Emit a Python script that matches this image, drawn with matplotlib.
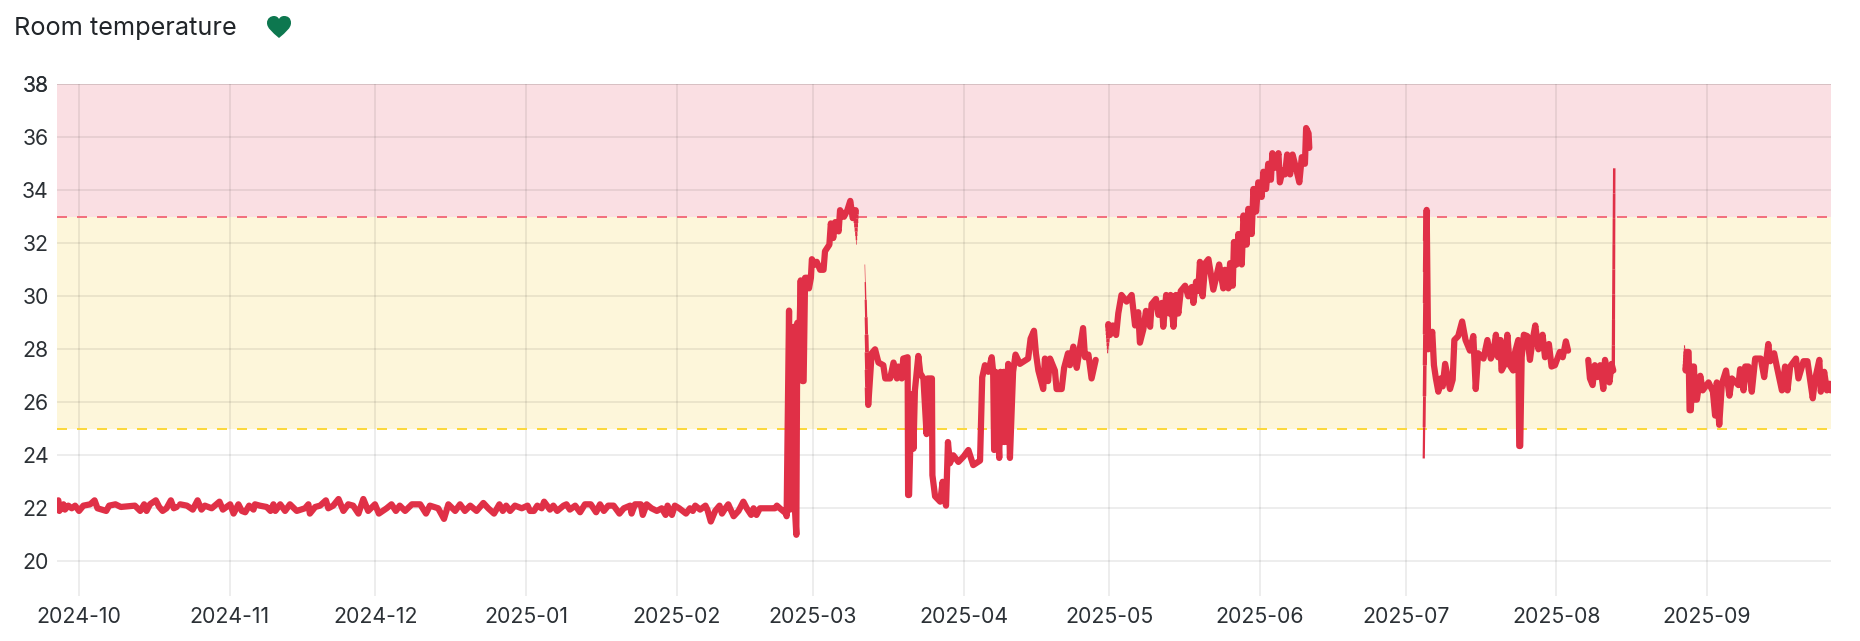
#! /usr/bin/env python3

import matplotlib
matplotlib.use('Agg')
import matplotlib.pyplot as plt
import matplotlib.dates as mdates
from matplotlib.patches import PathPatch
from matplotlib.path import Path
import numpy as np
import pandas as pd

plt.rcParams['font.family'] = ['Inter', 'DejaVu Sans']

# days since 2024-10-01 and room temperature, one pair of lists per unbroken run
days_a = [-4.25, -4.05, -3.2, -2.9, -2.2, -1.5, -0.8, 0, 0.9, 2.3, 3.2, 3.8, 4.7, 5.6, 6.2, 7.5, 8.6, 11.5, 12.6,
          13.4, 13.9, 14.6, 15.8, 16.5, 17.2, 18.0, 18.9, 19.5, 20.1]
temp_a = [22.3, 21.9, 22.15, 21.95, 22.1, 22.0, 22.1, 21.9, 22.1, 22.15, 22.3, 22.0, 21.95, 21.9, 22.1, 22.15, 22.05,
          22.1, 21.9, 22.15, 21.9, 22.15, 22.3, 22.05, 21.9, 22.0, 22.3, 22.0, 22.05]

days_b = [20.8, 22.2, 23.4, 24.4, 25.2, 25.9, 27.3, 28.9, 29.6, 31.1, 31.8, 32.8, 33.5, 34.2, 35.0, 35.9, 36.2, 37.2,
          38.6, 39.4, 40.0, 40.4, 41.4, 42.4, 43.4, 44.8, 46.5, 47.2, 47.5, 48.6, 49.6, 50.8, 51.3, 52.3, 53.4, 54.4,
          55.4, 56.4, 57.5, 58.5, 59.5, 60.9, 61.7, 63.3, 64.3, 65.2, 66.0, 67.1, 68.5, 70.2, 71.4, 72.2, 73.9, 75.1,
          76.0, 77.4, 78.4, 79.4, 80.5, 81.8, 83.2, 84.2, 85.4, 86.5, 87.2, 87.9, 88.7, 89.7, 91.1, 92.3, 92.8, 93.6,
          94.3, 95.2, 95.7, 96.9, 97.6, 98.4, 99.7, 100.3, 101.0, 102.1, 103.1, 104.1, 105.3, 106.4, 107.2, 108.0,
          108.9, 110.0, 111.2, 112.1, 113.4, 113.7, 114.4, 115.6, 116.0, 116.8, 117.8, 118.9, 119.9, 120.7, 121.1,
          122.0, 122.6, 123.5, 124.9, 125.7, 126.3, 126.8, 127.8, 128.9, 129.3, 130.0, 130.9, 131.8, 132.3, 133.0,
          133.6, 134.7, 135.7, 136.7, 137.4, 138.3, 138.8, 139.4, 140.1, 143.2, 143.6, 144.2, 145.5,
          145.6, 146.1, 146.3, 146.6, 146.8, 147.1, 147.3, 147.6, 147.8, 148.1, 148.5, 148.85, 149.1, 149.4, 149.9,
          150.2, 150.6, 150.8, 151.5, 151.8, 152.5, 153.2, 153.5, 154.4, 154.7, 155.2, 155.6, 156.3, 156.6, 157.4,
          158.1, 158.7, 159.2, 159.8, 160.0]
temp_b = [22.15, 22.1, 21.95, 22.3, 21.95, 22.1, 22.0, 22.25, 21.95, 22.15, 21.8, 22.15, 21.9, 21.85, 22.1, 21.95,
          22.15, 22.1, 22.05, 21.9, 22.15, 21.9, 22.15, 21.9, 22.15, 21.9, 22.0, 22.15, 21.8, 22.05, 22.1, 22.3, 22.0,
          22.1, 22.35, 21.9, 22.15, 22.1, 21.8, 22.35, 21.9, 22.15, 21.8, 22.0, 22.15, 21.9, 22.1, 21.9, 22.15, 22.15,
          21.8, 22.1, 22.0, 21.6, 22.15, 21.9, 22.15, 21.9, 22.1, 21.9, 22.2, 22.0, 21.8, 22.15, 21.9, 22.1, 21.9, 22.1,
          22.0, 22.1, 21.9, 21.9, 22.1, 22.0, 22.25, 21.95, 22.1, 21.9, 22.1, 22.15, 21.95, 22.1, 21.85, 22.15, 22.15,
          21.85, 22.15, 21.9, 22.1, 22.1, 21.8, 22.0, 22.1, 21.8, 22.15, 22.15, 21.75, 22.15, 22.0, 21.9, 22.0, 21.75,
          22.1, 21.75, 22.1, 22.0, 21.8, 22.0, 21.9, 22.1, 21.95, 22.1, 21.95, 21.5, 21.9, 22.1, 21.8, 22.0, 22.15, 21.7,
          21.9, 22.25, 22.0, 21.75, 22.0, 21.75, 22.0, 22.0, 22.1, 22.0, 21.8,
          21.7, 29.46, 21.95, 28.8, 22.0, 28.85, 22.0, 21.0, 29.0, 27.5, 30.6, 26.8, 26.8, 30.7, 30.7, 30.3, 30.7,
          31.4, 31.2, 31.3, 31.0, 31.0, 31.7, 31.95, 32.75, 32.2, 32.8, 32.45, 33.25, 33.0, 33.25, 33.6, 32.95, 33.25,
          31.95]

days_c = [161.7, 162.4, 163.1, 163.8, 164.5, 165.5, 165.9, 166.9, 167.6, 168.3, 168.6, 169.3, 169.6, 170.5, 170.6,
          170.8, 171.3, 171.7, 172.0, 172.7, 173.1, 173.75, 174.4, 174.6, 175.5, 175.6, 176.15, 177.2, 177.7, 178.4,
          178.8, 179.2, 179.9, 180.95, 182.0, 183.0, 184.0, 185.4, 185.85, 186.4, 187.1, 187.8, 188.1, 188.3, 188.6,
          189.35, 189.6, 190.0, 190.3, 190.5, 191.2, 191.55, 192.2, 192.7, 193.6, 195.3, 195.8, 196.5, 196.9, 197.4,
          198.4, 198.75, 199.4, 199.8, 200.8, 201.15, 202.2, 202.7, 203.5, 203.9, 204.6, 205.3, 205.6, 206.6, 207.0,
          207.7, 208.35, 209.2]
temp_c = [31.2, 25.9, 27.85, 28.0, 27.5, 27.4, 26.9, 26.9, 27.5, 26.9, 27.35, 26.9, 27.65, 27.7, 22.5, 22.5, 26.3,
          24.25, 26.45, 27.75, 27.1, 26.9, 24.8, 26.9, 26.9, 23.25, 22.45, 22.25, 23.0, 22.1, 24.5, 23.7, 24.0, 23.75,
          23.95, 24.2, 23.63, 23.8, 26.94, 27.4, 27.15, 27.7, 27.15, 24.2, 27.15, 23.9, 27.15, 24.5, 27.15, 24.5,
          27.45, 23.9, 27.15, 27.8, 27.45, 27.65, 28.4, 28.7, 27.85, 27.2, 26.5, 27.65, 26.8, 27.65, 27.2, 26.5, 26.5,
          27.3, 27.85, 27.4, 28.1, 27.3, 27.65, 28.8, 27.7, 27.8, 26.9, 27.6]

days_d = [211.65, 211.8, 212.15, 212.7, 213.4, 213.85, 214.5, 215.55, 216.6, 217.3, 217.95, 218.3, 219.0, 219.55,
          220.4, 220.7, 221.6, 222.1, 222.8, 223.1, 223.7, 224.35, 224.6, 225.2, 225.7, 226.2, 226.7, 227.6, 228.25,
          228.95, 229.3, 229.85, 230.3, 230.65, 231.2, 231.75, 232.4, 233.4, 234.6, 235.45, 235.8, 236.5, 236.85,
          237.4, 237.65, 238.2, 238.55, 239.25, 239.6, 240.25, 240.6, 241.3, 241.65, 242.2, 242.65, 243.35, 243.7,
          244.25, 244.7, 245.25, 245.55, 246.1, 246.8, 247.1, 247.65, 248.15, 248.6, 249.2, 249.7, 250.4, 251.1,
          251.6, 252.25, 252.5, 253.0, 253.15]
temp_d = [27.85, 28.95, 28.54, 28.9, 28.54, 29.36, 30.05, 29.8, 30.05, 28.9, 29.4, 28.25, 28.75, 29.45, 28.85, 29.7,
          29.9, 29.3, 29.75, 28.85, 30.05, 29.35, 30.05, 28.85, 30.05, 29.35, 30.2, 30.4, 30.0, 30.35, 29.75, 30.55,
          30.2, 31.3, 30.0, 31.25, 31.4, 30.25, 31.2, 30.3, 31.0, 30.3, 31.25, 30.4, 32.05, 31.2, 32.35, 31.2, 33.05,
          31.95, 33.3, 32.35, 34.05, 33.2, 34.3, 33.75, 34.7, 34.05, 35.0, 34.4, 35.4, 34.85, 35.4, 34.3, 34.75, 34.6,
          35.35, 34.6, 35.35, 34.85, 34.3, 35.25, 35.0, 36.35, 36.15, 35.6]

days_e = [276.7, 277.3, 277.6, 278.45, 278.8, 279.2, 279.7, 280.2, 280.6, 281.1, 282.1, 282.65, 283.0, 283.8, 284.6,
          285.3, 286.2, 286.9, 287.4, 287.9, 289.0, 289.8, 290.5, 291.0, 291.55, 292.0, 292.5, 292.7, 293.4, 293.9,
          294.4, 295.1, 295.5, 296.15, 296.35, 296.55, 296.85, 297.3, 298.0, 298.55, 299.1, 299.65, 300.3, 301.15,
          301.65, 302.45, 303.0, 303.7, 304.7, 305.3, 305.95, 306.4]
temp_e = [23.88, 33.26, 28.0, 28.66, 27.4, 26.9, 26.4, 26.9, 26.6, 27.45, 26.5, 26.85, 28.35, 28.5, 29.05, 28.35,
          27.95, 28.5, 26.5, 27.85, 27.65, 28.35, 27.65, 27.85, 28.55, 27.7, 28.35, 27.2, 27.45, 28.55, 27.4, 27.2,
          27.9, 28.35, 24.35, 24.35, 27.7, 28.55, 28.5, 27.6, 28.35, 28.9, 28.0, 28.55, 27.7, 28.2, 27.35, 27.4, 27.9,
          27.7, 28.3, 27.95]

days_f = [310.55, 310.9, 311.45, 311.9, 312.4, 313.0, 313.65, 314.0, 314.9, 315.35, 315.7, 315.9]
temp_f = [27.6, 26.9, 26.65, 27.4, 26.95, 27.4, 26.5, 27.6, 26.75, 27.45, 27.2, 34.83]

days_g = [330.35, 330.6, 330.8, 331.2, 331.4, 331.65, 332.05, 332.3, 332.55, 332.9, 333.6, 334.1, 335.3, 336.2,
          336.65, 337.0, 337.5, 338.05, 338.9, 339.6, 340.1, 341.45, 341.8, 342.5, 342.85, 343.5, 344.2, 344.9, 346.05,
          346.75, 347.6, 348.0, 348.8, 349.35, 350.4, 351.05, 351.55, 352.1, 353.3, 353.8, 354.85, 355.65, 356.75,
          357.2, 358.1, 358.4, 359.1, 359.65, 360.2, 360.45]
temp_g = [28.15, 27.2, 27.9, 27.9, 25.7, 25.7, 27.35, 27.35, 26.1, 26.1, 27.0, 26.45, 26.75, 26.4, 25.5, 26.75, 25.15,
          26.7, 27.2, 26.25, 26.9, 26.65, 27.25, 26.45, 27.35, 27.35, 26.4, 27.65, 27.65, 26.95, 28.2, 27.55, 27.85,
          27.35, 26.45, 27.35, 26.45, 27.35, 27.65, 26.9, 27.55, 27.55, 26.15, 26.85, 27.6, 26.4, 27.15, 26.45, 26.7,
          26.45]

month_ticks = pd.date_range('2024-10-01', '2025-09-01', freq='MS')
temp_ticks = list(range(20, 40, 2))
warn_low, warn_high = 25, 33
t_min, t_max = 18.69, 38

LINE_RED = '#e03047'
LINE_W = 4.5
base = pd.Timestamp('2024-10-01')


def to_dates(days):
    return base + pd.to_timedelta(np.asarray(days, dtype=float), unit='D')


def taper(ax, d0, t0, d1, t1, w0, w1, n=8):
    # one stroke that gets thicker or thinner along its length
    ds = np.linspace(d0, d1, n + 1)
    ts = np.linspace(t0, t1, n + 1)
    ws = np.linspace(w0, w1, n)
    for i in range(n):
        ax.plot(to_dates(ds[i:i + 2]), ts[i:i + 2], color=LINE_RED, lw=ws[i],
                solid_capstyle='butt', zorder=4)


def draw_run(ax, days, temps):
    ax.plot(to_dates(days), temps, color=LINE_RED, lw=LINE_W, solid_joinstyle='round',
            solid_capstyle='round', zorder=4)


def prep_axes(fig):
    w, h = 1860, 641
    ax = fig.add_axes([57 / w, 1 - 596 / h, (1831 - 57) / w, (596 - 84.3) / h])
    ax.set_xlim(to_dates([-4.53])[0], to_dates([360.5])[0])
    ax.set_ylim(t_min, t_max)
    for s in ax.spines.values():
        s.set_visible(False)
    ax.axhspan(warn_high, t_max, color='#fadfe3', lw=0, zorder=0)
    ax.axhspan(warn_low, warn_high, color='#fdf6da', lw=0, zorder=0)
    ax.set_yticks(temp_ticks + [38])
    ax.set_xticks(month_ticks)
    ax.xaxis.set_major_formatter(mdates.DateFormatter('%Y-%m'))
    ax.tick_params(length=0, labelsize=15.3, labelcolor='#2b3035')
    ax.tick_params(axis='x', pad=8)
    ax.tick_params(axis='y', pad=6)
    ax.grid(True, color='black', alpha=0.09, lw=1.1, zorder=1)
    ax.set_axisbelow(True)
    ax.axhline(warn_high, color='#f2707e', lw=1.44, ls=(0, (5, 5)), zorder=2)
    ax.axhline(warn_low, color='#fbd83e', lw=1.44, ls=(0, (5, 5)), zorder=2)
    return ax


def add_title(fig):
    fig.text(14 / 1860, 1 - 28 / 641, 'Room temperature', fontsize=18.2, color='#212529', va='center', ha='left')
    # heart icon, drawn in pixels of the saved picture
    verts = [(279, 38), (272, 32), (267, 28), (267, 23), (267, 18), (271, 16), (274, 16), (276, 16), (278, 17),
             (279, 19), (280, 17), (282, 16), (284, 16), (288, 16), (291, 18), (291, 23), (291, 28), (286, 32),
             (279, 38), (279, 38)]
    codes = [Path.MOVETO] + [Path.CURVE4] * 18 + [Path.CLOSEPOLY]
    verts = [(x / 1860, 1 - y / 641) for x, y in verts]
    fig.add_artist(PathPatch(Path(verts, codes), transform=fig.transFigure, facecolor='#0d774f', lw=0))


def main():
    fig = plt.figure(figsize=(18.6, 6.41), dpi=100)
    ax = prep_axes(fig)
    add_title(fig)

    draw_run(ax, days_a, temp_a)
    draw_run(ax, days_b[:-1], temp_b[:-1])
    taper(ax, days_b[-2], temp_b[-2], days_b[-1], temp_b[-1], LINE_W, 0.5)
    taper(ax, days_c[0], temp_c[0], days_c[1], temp_c[1], 0.4, LINE_W)
    draw_run(ax, days_c[1:], temp_c[1:])
    taper(ax, days_d[0], temp_d[0], days_d[1], temp_d[1], 0.8, LINE_W)
    draw_run(ax, days_d[1:], temp_d[1:])
    taper(ax, days_e[0], temp_e[0], days_e[1], temp_e[1], 1.6, LINE_W + 0.4)
    draw_run(ax, days_e[1:], temp_e[1:])
    draw_run(ax, days_f[:-1], temp_f[:-1])
    taper(ax, days_f[-2], temp_f[-2], days_f[-1], temp_f[-1], 2.4, 1.8)
    taper(ax, days_g[0], temp_g[0], days_g[1], temp_g[1], 0.8, LINE_W)
    draw_run(ax, days_g[1:], temp_g[1:])

    fig.savefig('out.png', dpi=100)


main()
